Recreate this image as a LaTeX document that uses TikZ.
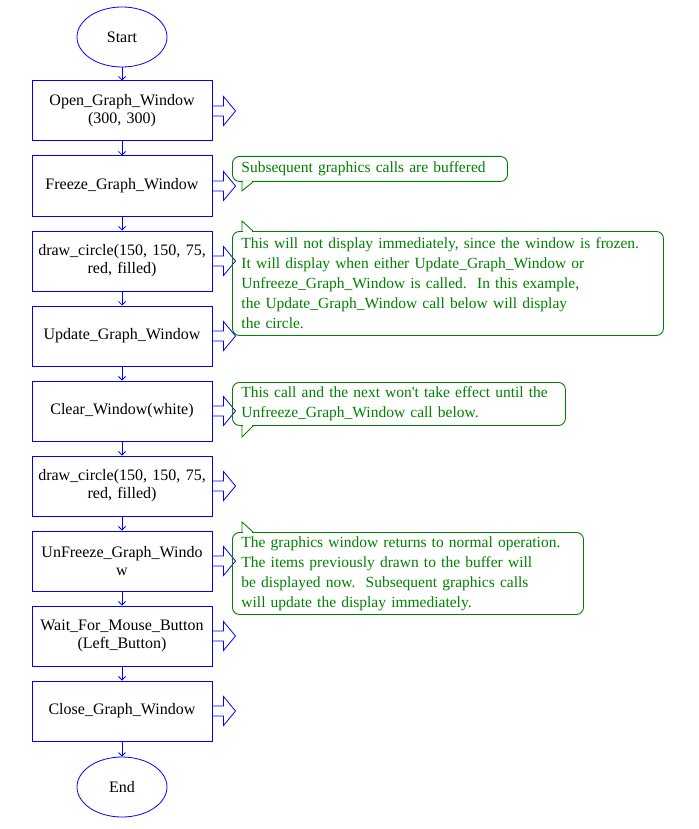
\documentclass[tikz,border=0pt]{standalone}
\usepackage{fontspec}
\setmainfont{Liberation Serif}
\usetikzlibrary{shapes.geometric, arrows.meta}
\definecolor{azul}{RGB}{0,0,255}
\definecolor{verde}{RGB}{0,128,0}

% Flecha de bloque a la derecha de una caja
\newcommand{\flechalado}[1]{%
  \draw[bloque] ([yshift=5]#1.east) -- ++(11,0) -- ++(0,9.5) -- ++(12,-14.5)
    -- ++(-12,-14.5) -- ++(0,9.5) -- ++(-11,0);}
% Cola del comentario, hacia abajo o hacia arriba
\newcommand{\colaabajo}[2]{%
  \fill[white] ([shift={(10.6,0.9)}]#1.south west) rectangle ([shift={(20.4,-0.9)}]#1.south west);
  \draw[nota] ([xshift=10]#1.south west) -- ++(0,-#2) -- ++(11,#2);}
\newcommand{\colaarriba}[2]{%
  \fill[white] ([shift={(10.6,0.9)}]#1.north west) rectangle ([shift={(20.4,-0.9)}]#1.north west);
  \draw[nota] ([xshift=10]#1.north west) -- ++(0,#2) -- ++(11,-#2);}

\tikzset{
  terminal/.style={ellipse, draw=azul, line width=0.8pt, minimum width=90, minimum height=60,
    inner sep=0pt, font=\fontsize{16}{18}\selectfont},
  proceso/.style={rectangle, draw=azul, line width=1pt, minimum width=180, minimum height=60,
    text width=172, inner xsep=4pt, align=center, font=\fontsize{16}{18}\selectfont},
  flujo/.style={draw=azul, line width=0.8pt, -{Straight Barb[length=3.5pt,width=7pt]}},
  bloque/.style={draw=azul, line width=0.8pt, line join=miter},
  nota/.style={draw=verde, line width=0.9pt, text=verde},
  comentario/.style={nota, rectangle, rounded corners=7pt, anchor=north west, align=left,
    inner xsep=9pt, inner ysep=2pt, font=\fontsize{15.5}{20}\selectfont},
}

\begin{document}
\begin{tikzpicture}[x=1pt, y=1pt]
  % Marco de la figura
  \useasboundingbox (0,0) rectangle (698,-829);

  % Inicio y fin
  \node[terminal] (inicio) at (122,-37) {Start};
  \node[terminal] (fin) at (122,-787) {End};

  % Cajas del proceso
  \node[proceso] (abrir)     at (122,-111) {Open\_Graph\_Window\\(300, 300)};
  \node[proceso] (congelar)  at (122,-186) {Freeze\_Graph\_Window};
  \node[proceso] (circuloa)  at (122,-261) {draw\_circle(150, 150, 75,\\red, filled)};
  \node[proceso] (actualizar)at (122,-336) {Update\_Graph\_Window};
  \node[proceso] (limpiar)   at (122,-411) {Clear\_Window(white)};
  \node[proceso] (circulob)  at (122,-486) {draw\_circle(150, 150, 75,\\red, filled)};
  \node[proceso] (descongelar) at (122,-561) {UnFreeze\_Graph\_Windo\\w};
  \node[proceso] (esperar)   at (122,-636) {Wait\_For\_Mouse\_Button\\(Left\_Button)};
  \node[proceso] (cerrar)    at (122,-711) {Close\_Graph\_Window};

  % Flechas verticales
  \draw[flujo] (inicio) -- (abrir);
  \draw[flujo] (abrir) -- (congelar);
  \draw[flujo] (congelar) -- (circuloa);
  \draw[flujo] (circuloa) -- (actualizar);
  \draw[flujo] (actualizar) -- (limpiar);
  \draw[flujo] (limpiar) -- (circulob);
  \draw[flujo] (circulob) -- (descongelar);
  \draw[flujo] (descongelar) -- (esperar);
  \draw[flujo] (esperar) -- (cerrar);
  \draw[flujo] (cerrar) -- (fin);

  % Flechas de bloque a la derecha
  \flechalado{abrir}
  \flechalado{congelar}
  \flechalado{circuloa}
  \flechalado{actualizar}
  \flechalado{limpiar}
  \flechalado{circulob}
  \flechalado{descongelar}
  \flechalado{esperar}
  \flechalado{cerrar}

  % Comentarios
  \node[comentario, minimum width=275, minimum height=25, text width=257] (notaa) at (232,-156)
    {Subsequent graphics calls are buffered};
  \colaabajo{notaa}{9}

  \node[comentario, minimum width=431, minimum height=104, text width=413] (notab) at (232,-231)
    {This will not display immediately, since the window is frozen.\\
     It will display when either Update\_Graph\_Window or\\
     Unfreeze\_Graph\_Window is called.\ \ In this example,\\
     the Update\_Graph\_Window call below will display\\
     the circle.};
  \colaarriba{notab}{10}

  \node[comentario, minimum width=333, minimum height=43, text width=315] (notac) at (232,-382)
    {This call and the next won\textquotesingle t take effect until the\\
     Unfreeze\_Graph\_Window call below.};
  \colaabajo{notac}{11}

  \node[comentario, minimum width=351, minimum height=82, text width=333] (notad) at (232,-532)
    {The graphics window returns to normal operation.\\
     The items previously drawn to the buffer will\\
     be displayed now.\ \ Subsequent graphics calls\\
     will update the display immediately.};
  \colaarriba{notad}{10}
\end{tikzpicture}
\end{document}
